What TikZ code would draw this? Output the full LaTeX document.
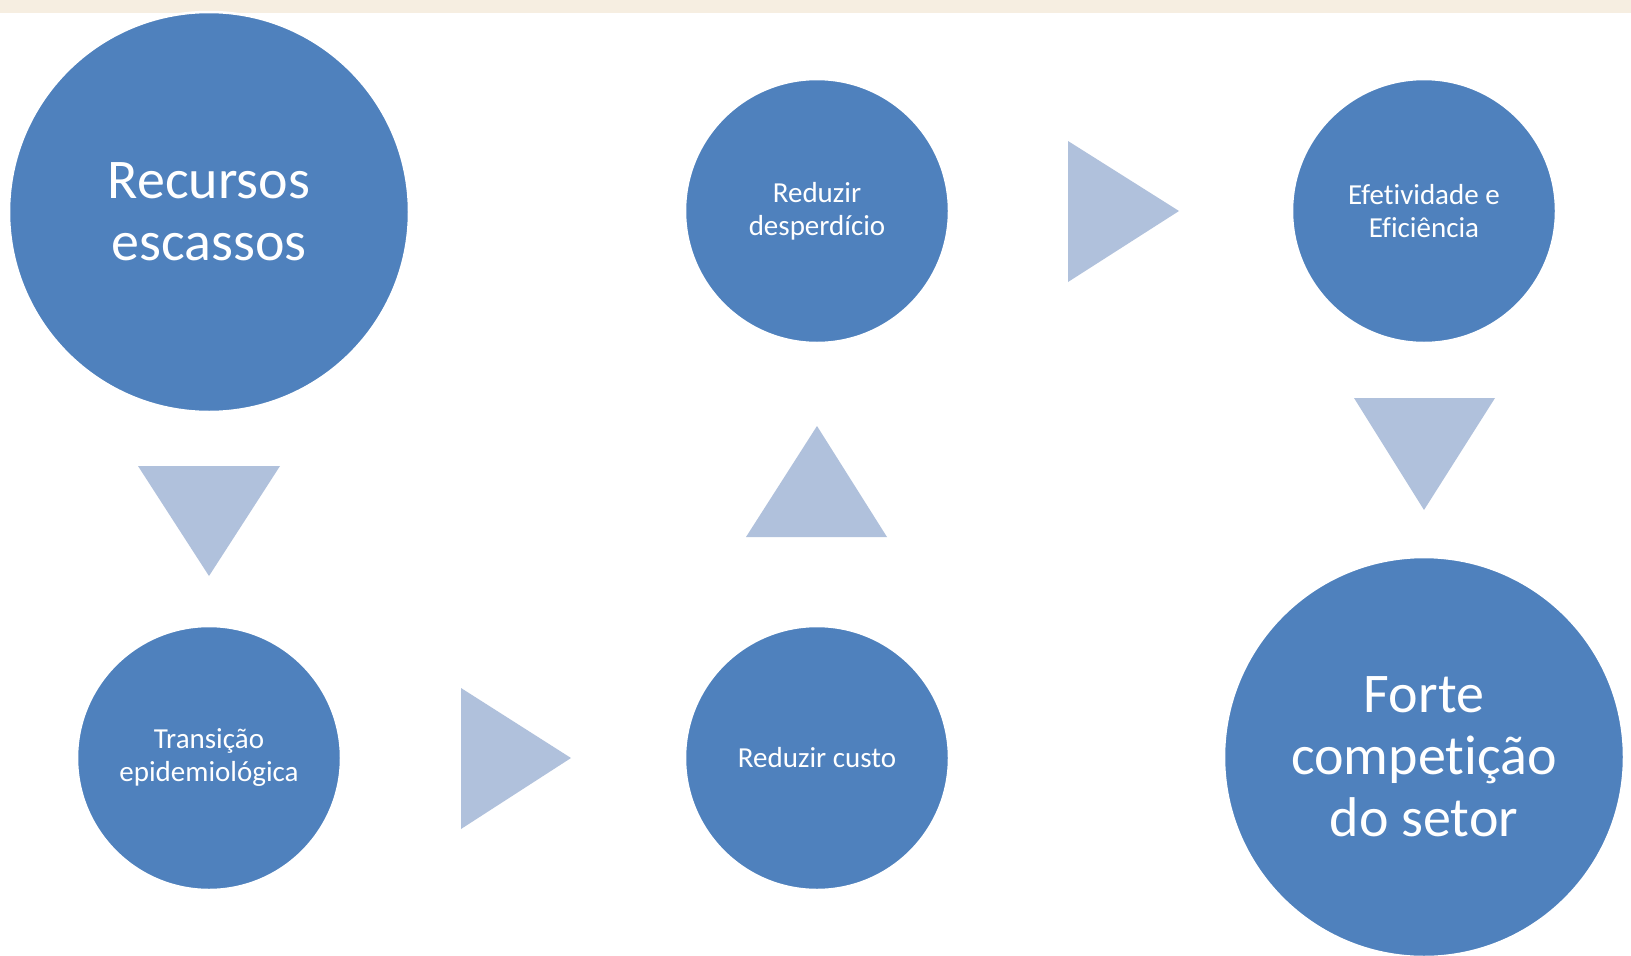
\documentclass[tikz,border=0pt]{standalone}
\usepackage{fontspec}
\setmainfont{Carlito}[Ligatures=NoCommon]
\definecolor{circblue}{HTML}{4F81BD}
\definecolor{triblue}{HTML}{B0C1DC}
\definecolor{strip}{HTML}{F6EEE1}
\begin{document}
\begin{tikzpicture}[x=1pt,y=-1pt,
  bubble/.style={circle,fill=circblue,draw=white,line width=2.5pt,text=white,align=center,inner sep=0pt},
  bigbubble/.style={bubble,minimum size=400pt,font=\fontsize{56}{62}\selectfont},
  smallbubble/.style={bubble,minimum size=264pt,font=\fontsize{29}{33}\selectfont},
  tri/.style={fill=triblue}]
\useasboundingbox (0,0) rectangle (1631,956);
\fill[white] (0,0) rectangle (1631,956);
\fill[strip] (0,0) rectangle (1631,13);
% circles
\node[bigbubble] (rec) at (209,212) {Recursos\\escassos};
\node[smallbubble] (tra) at (209,758) {Transição\\epidemiológica};
\node[smallbubble] (cus) at (817,758) {Reduzir custo};
\node[smallbubble] (des) at (817,211) {Reduzir\\desperdício};
\node[smallbubble] (efe) at (1424,211) {Efetividade e\\Eficiência};
\node[bigbubble] (for) at (1424,757) {Forte\\competição\\do setor};
% arrow triangles
\fill[tri] (138,466) -- (280,466) -- (209,576) -- cycle;
\fill[tri] (461,688) -- (571,758) -- (461,829) -- cycle;
\fill[tri] (746,537) -- (887,537) -- (817,426) -- cycle;
\fill[tri] (1068,141) -- (1179,211) -- (1068,282) -- cycle;
\fill[tri] (1354,398) -- (1495,398) -- (1424,510) -- cycle;
\end{tikzpicture}
\end{document}
